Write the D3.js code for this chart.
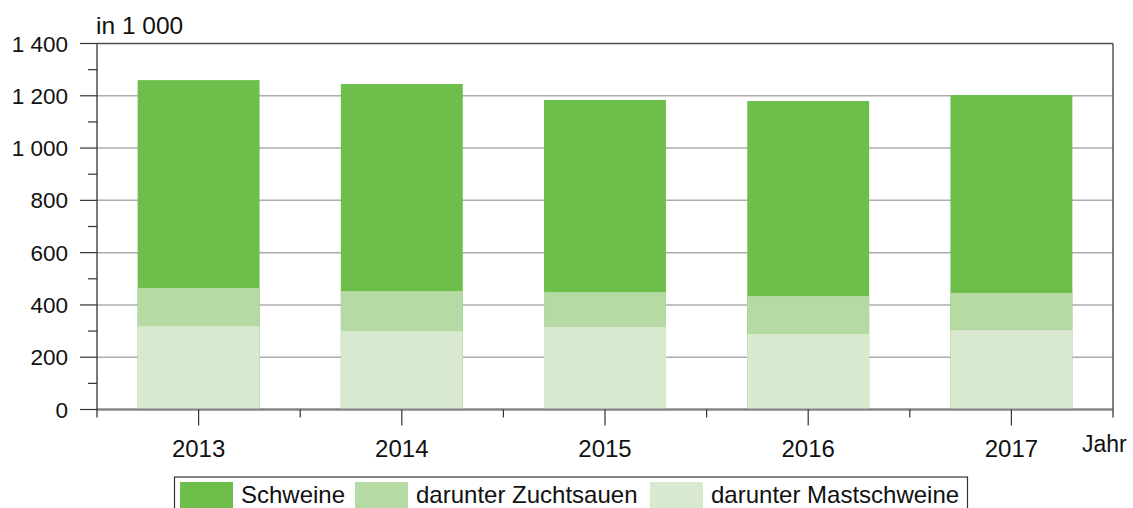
<!DOCTYPE html>
<html lang="de">
<head>
<meta charset="UTF-8">
<title>Schweine</title>
<script src="https://d3js.org/d3.v7.min.js"></script>
<style>
  body { margin: 0; background: #fff; }
  svg { display: block; font-family: "Liberation Sans", Arial, sans-serif; }
</style>
</head>
<body>
<div id="chart"></div>
<script>
// data (in 1 000)
var years = ["2013", "2014", "2015", "2016", "2017"];
var schweine = [1260, 1245, 1184, 1180, 1203];
var zuchtsauen = [146, 153, 133, 145, 142];
var mastschweine = [319, 300, 316, 289, 304];
var yTicks = [0, 200, 400, 600, 800, 1000, 1200, 1400];
var legendLabels = ["Schweine", "darunter Zuchtsauen", "darunter Mastschweine"];
var colors = ["#6ebe4b", "#b6daa3", "#d9e9cf"];

var width = 1133, height = 508;
// plot area edges (note: "top" is reserved on window, so use pTop etc.)
var pLeft = 97, pRight = 1113, pTop = 43.5, pBottom = 409.5;

var svg = d3.select("#chart").append("svg")
    .attr("width", width).attr("height", height);

var x = d3.scaleBand().domain(years).range([pLeft, pRight])
    .paddingInner(0.4).paddingOuter(0.2);
var y = d3.scaleLinear().domain([0, 1400]).range([pBottom, pTop]);

function fmt(v) {
    return v >= 1000 ? Math.floor(v / 1000) + " " + d3.format("03d")(v % 1000) : String(v);
}

// grid lines
svg.append("g").selectAll("line").data(yTicks).enter().append("line")
    .attr("x1", pLeft).attr("x2", pRight)
    .attr("y1", function(d) { return y(d); }).attr("y2", function(d) { return y(d); })
    .attr("stroke", function(d) { return d === 1400 ? "#4d4d4d" : (d === 0 ? "#858585" : "#acacac"); })
    .attr("stroke-width", function(d) { return d === 0 ? 2 : 1.5; });

// bars: total, then Zuchtsauen on top of Mastschweine
var rows = years.map(function(yr, i) {
    return { year: yr, total: schweine[i], zucht: zuchtsauen[i], mast: mastschweine[i] };
});
var bars = svg.append("g");
bars.selectAll(".tot").data(rows).enter().append("rect")
    .attr("x", function(d) { return x(d.year); })
    .attr("width", x.bandwidth())
    .attr("y", function(d) { return y(d.total); })
    .attr("height", function(d) { return y(0) - y(d.total); })
    .attr("fill", colors[0]);
bars.selectAll(".zu").data(rows).enter().append("rect")
    .attr("x", function(d) { return x(d.year); })
    .attr("width", x.bandwidth())
    .attr("y", function(d) { return y(d.mast + d.zucht); })
    .attr("height", function(d) { return y(d.mast) - y(d.mast + d.zucht); })
    .attr("fill", colors[1]);
bars.selectAll(".ma").data(rows).enter().append("rect")
    .attr("x", function(d) { return x(d.year); })
    .attr("width", x.bandwidth())
    .attr("y", function(d) { return y(d.mast); })
    .attr("height", function(d) { return y(0) - y(d.mast); })
    .attr("fill", colors[2]);

// redraw baseline over bars
svg.append("line").attr("x1", pLeft).attr("x2", pRight)
    .attr("y1", y(0)).attr("y2", y(0))
    .attr("stroke", "#858585").attr("stroke-width", 2);

// left axis
svg.append("line").attr("x1", pLeft).attr("x2", pLeft)
    .attr("y1", pTop).attr("y2", pBottom + 8)
    .attr("stroke", "#333").attr("stroke-width", 1.3);
// right border
svg.append("line").attr("x1", pRight).attr("x2", pRight)
    .attr("y1", pTop).attr("y2", pBottom + 8)
    .attr("stroke", "#555").attr("stroke-width", 1.5);

var minor = d3.range(100, 1400, 200);
svg.append("g").selectAll("line").data(minor).enter().append("line")
    .attr("x1", pLeft - 9).attr("x2", pLeft)
    .attr("y1", function(d) { return y(d); }).attr("y2", function(d) { return y(d); })
    .attr("stroke", "#333").attr("stroke-width", 1.2);
svg.append("g").selectAll("line").data(yTicks).enter().append("line")
    .attr("x1", pLeft - 17).attr("x2", pLeft)
    .attr("y1", function(d) { return y(d); }).attr("y2", function(d) { return y(d); })
    .attr("stroke", "#333").attr("stroke-width", 1.2);

svg.append("g").selectAll("text").data(yTicks).enter().append("text")
    .attr("x", 68).attr("y", function(d) { return y(d) + 8; })
    .attr("text-anchor", "end")
    .attr("font-size", 22.5).attr("fill", "#111")
    .text(fmt);

svg.append("text").attr("x", 96).attr("y", 34)
    .attr("font-size", 24.5).attr("fill", "#111").text("in 1 000");

// x axis ticks
var step = x.step();
var bounds = years.slice(1).map(function(yr) { return x(yr) - x.paddingInner() * step / 2; });
svg.append("g").selectAll("line").data(bounds).enter().append("line")
    .attr("x1", function(d) { return d; }).attr("x2", function(d) { return d; })
    .attr("y1", pBottom).attr("y2", pBottom + 8)
    .attr("stroke", "#333").attr("stroke-width", 1.2);
svg.append("g").selectAll("line").data(years).enter().append("line")
    .attr("x1", function(d) { return x(d) + x.bandwidth() / 2; })
    .attr("x2", function(d) { return x(d) + x.bandwidth() / 2; })
    .attr("y1", pBottom).attr("y2", pBottom + 16)
    .attr("stroke", "#333").attr("stroke-width", 1.2);
svg.append("g").selectAll("text").data(years).enter().append("text")
    .attr("x", function(d) { return x(d) + x.bandwidth() / 2; })
    .attr("y", 457)
    .attr("text-anchor", "middle")
    .attr("font-size", 24).attr("fill", "#111")
    .text(function(d) { return d; });
svg.append("text").attr("x", 1082).attr("y", 452)
    .attr("font-size", 23).attr("fill", "#111").text("Jahr");

// legend
var lg = svg.append("g");
lg.append("rect").attr("x", 174.5).attr("y", 477).attr("width", 793).attr("height", 36)
    .attr("fill", "none").attr("stroke", "#333").attr("stroke-width", 1.2);
var swX = [180, 355, 650];
lg.selectAll(".sw").data(legendLabels).enter().append("rect")
    .attr("x", function(d, i) { return swX[i]; })
    .attr("y", 482).attr("width", 53).attr("height", 26)
    .attr("fill", function(d, i) { return colors[i]; });
lg.selectAll("text").data(legendLabels).enter().append("text")
    .attr("x", function(d, i) { return swX[i] + 61; })
    .attr("y", 502.5)
    .attr("font-size", 24).attr("fill", "#111")
    .text(function(d) { return d; });
</script>
</body>
</html>
